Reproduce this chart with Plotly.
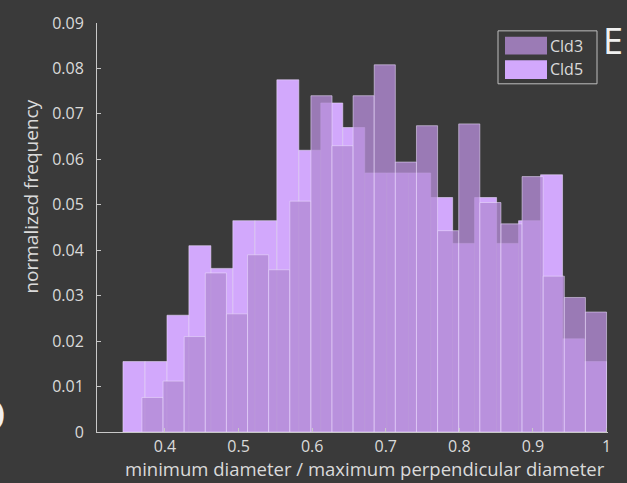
import numpy as np
import plotly.graph_objects as go

# ---- data ----
series_names = ["Cld3", "Cld5"]

cld5_centers = [0.3579, 0.3878, 0.4177, 0.4475, 0.4774, 0.5072, 0.5371, 0.5670,
                0.5968, 0.6267, 0.6565, 0.6864, 0.7163, 0.7461, 0.7760, 0.8058,
                0.8357, 0.8656, 0.8954, 0.9253, 0.9551, 0.9850]
cld5_freq = [0.0155, 0.0155, 0.0257, 0.0410, 0.0360, 0.0465, 0.0465, 0.0775,
             0.0620, 0.0724, 0.0670, 0.0570, 0.0570, 0.0570, 0.0516, 0.0415,
             0.0516, 0.0415, 0.0465, 0.0566, 0.0205, 0.0155]

cld3_centers = [0.3831, 0.4118, 0.4405, 0.4692, 0.4979, 0.5266, 0.5553, 0.5840,
                0.6127, 0.6413, 0.6700, 0.6987, 0.7274, 0.7561, 0.7848, 0.8135,
                0.8422, 0.8709, 0.8996, 0.9283, 0.9570, 0.9857]
cld3_freq = [0.0076, 0.0112, 0.0210, 0.0350, 0.0260, 0.0390, 0.0357, 0.0508,
             0.0740, 0.0630, 0.0740, 0.0808, 0.0594, 0.0674, 0.0443, 0.0678,
             0.0505, 0.0458, 0.0562, 0.0343, 0.0296, 0.0264]

x_ticks = [0.4, 0.5, 0.6, 0.7, 0.8, 0.9, 1.0]
x_ticklabels = ["0.4", "0.5", "0.6", "0.7", "0.8", "0.9", "1"]
y_ticks = [0, 0.01, 0.02, 0.03, 0.04, 0.05, 0.06, 0.07, 0.08, 0.09]
y_ticklabels = ["0", "0.01", "0.02", "0.03", "0.04", "0.05", "0.06", "0.07", "0.08", "0.09"]

x_title = "minimum diameter / maximum perpendicular diameter"
y_title = "normalized frequency"
panel_label = "E"

# ---- styling ----
W, H = 627, 483
L, R, T, B = 97, 19, 15, 51
BG = "rgb(58,58,58)"
AX = "rgb(200,200,200)"
TXT = "rgb(218,218,218)"
FONT = "Open Sans"
C5 = "rgb(210,168,252)"
C3 = "rgba(179,139,212,0.80)"
C3_SWATCH = "rgb(155,123,181)"
EDGE = "rgba(236,222,255,0.55)"

pw, ph = W - L - R, H - T - B


def px(xp):
    return (xp - L) / pw


def py(yp):
    return (H - B - yp) / ph


w5 = float(np.mean(np.diff(cld5_centers)))
w3 = float(np.mean(np.diff(cld3_centers)))

fig = go.Figure()
fig.add_trace(go.Bar(x=cld5_centers, y=cld5_freq, width=w5, name=series_names[1],
                     marker=dict(color=C5, line=dict(color=EDGE, width=1)),
                     showlegend=False))
fig.add_trace(go.Bar(x=cld3_centers, y=cld3_freq, width=w3, name=series_names[0],
                     marker=dict(color=C3, line=dict(color=EDGE, width=1)),
                     showlegend=False))

fig.update_layout(
    width=W, height=H,
    margin=dict(l=L, r=R, t=T, b=B, pad=0),
    paper_bgcolor=BG, plot_bgcolor=BG,
    barmode="overlay",
    font=dict(family=FONT, color=TXT, size=16),
    xaxis=dict(range=[0.3077, 1.002], tickvals=x_ticks, ticktext=x_ticklabels,
               showgrid=False, zeroline=False, showline=True, linecolor=AX, linewidth=1,
               ticks="inside", ticklen=4, tickcolor=AX, tickfont=dict(size=16, color=TXT),
               ticklabelstandoff=0),
    yaxis=dict(range=[0, 0.09], tickvals=y_ticks, ticktext=y_ticklabels,
               showgrid=False, zeroline=False, showline=True, linecolor=AX, linewidth=1,
               ticks="inside", ticklen=4, tickcolor=AX, tickfont=dict(size=16, color=TXT),
               ticklabelstandoff=9),
)

# axis titles as annotations (placed like the reference)
fig.add_annotation(xref="paper", yref="paper", x=px(365), y=py(469.5), text=x_title,
                   showarrow=False, xanchor="center", yanchor="middle", borderpad=0,
                   font=dict(size=18.5, color=TXT, family=FONT))
fig.add_annotation(xref="paper", yref="paper", x=px(31), y=py(192), text=y_title,
                   showarrow=False, xanchor="center", yanchor="middle", textangle=-90,
                   font=dict(size=19, color=TXT, family=FONT))

# custom legend box
fig.add_shape(type="rect", xref="paper", yref="paper",
              x0=px(498), x1=px(597), y0=py(77), y1=py(23),
              line=dict(color="rgb(190,190,190)", width=1), fillcolor=BG)
fig.add_shape(type="rect", xref="paper", yref="paper",
              x0=px(505), x1=px(547), y0=py(47), y1=py(29),
              line=dict(width=0), fillcolor=C3_SWATCH)
fig.add_shape(type="rect", xref="paper", yref="paper",
              x0=px(505), x1=px(547), y0=py(72), y1=py(53),
              line=dict(width=0), fillcolor=C5)
fig.add_annotation(xref="paper", yref="paper", x=px(548), y=py(38), text=series_names[0],
                   showarrow=False, xanchor="left", yanchor="middle",
                   font=dict(size=16, color=TXT, family=FONT))
fig.add_annotation(xref="paper", yref="paper", x=px(548), y=py(62), text=series_names[1],
                   showarrow=False, xanchor="left", yanchor="middle",
                   font=dict(size=16, color=TXT, family=FONT))

# panel letters
fig.add_annotation(xref="paper", yref="paper", x=px(613), y=py(33), text=panel_label,
                   showarrow=False, xanchor="center", yanchor="middle",
                   font=dict(size=36, color="rgb(240,240,240)", family=FONT))
fig.add_annotation(xref="paper", yref="paper", x=px(8), y=py(414), text="D",
                   showarrow=False, xanchor="right", yanchor="middle",
                   font=dict(size=46, color="rgb(240,240,240)", family=FONT))

fig.write_html("out.html",
               config={"displayModeBar": False},
               post_script="document.body.style.margin='0';document.body.style.padding='0';"
                           "document.body.style.overflow='hidden';")
